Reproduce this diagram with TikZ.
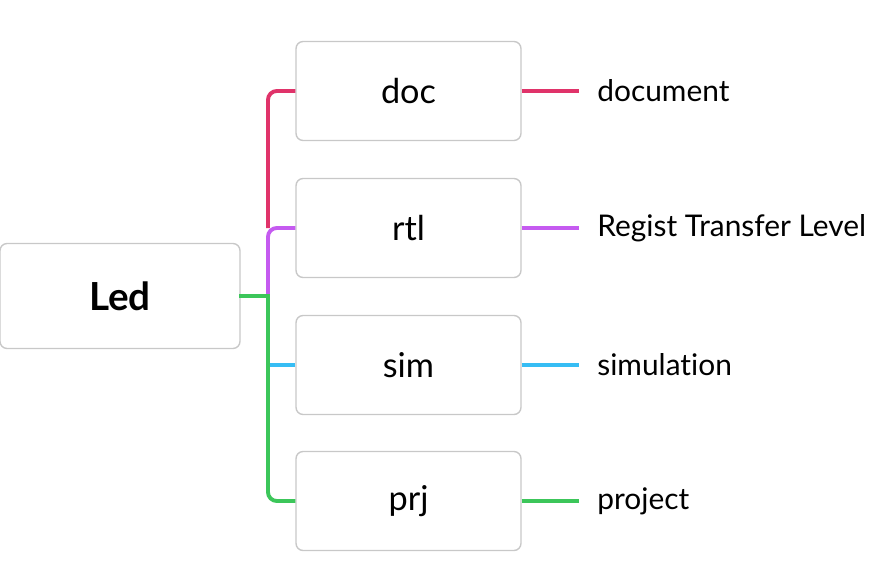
\documentclass[tikz,border=0pt]{standalone}
\usepackage{fontspec}
\setmainfont[Ligatures=NoCommon]{Lato}
\usetikzlibrary{positioning}
\definecolor{docred}{HTML}{E0336A}
\definecolor{rtlpurple}{HTML}{C55BF0}
\definecolor{simblue}{HTML}{36BDF4}
\definecolor{prjgreen}{HTML}{3CC65A}
\definecolor{boxgray}{HTML}{C8C8C8}

\begin{document}
\begin{tikzpicture}
	[x=0.02cm,y=-0.02cm,
	 box/.style={draw=boxgray,line width=0.8pt,rounded corners=4pt,fill=white,
	             minimum width=4.5cm,minimum height=1.98cm,font=\fontsize{19.5}{23}\selectfont},
	 rootbox/.style={box,minimum width=4.8cm,minimum height=2.1cm,font=\fontsize{22}{26}\selectfont\bfseries},
	 leaf/.style={anchor=west,inner sep=0pt,font=\fontsize{17}{20}\selectfont},
	 branch/.style={line width=2.2pt,rounded corners=5pt}]
	\useasboundingbox (0,0) rectangle (884,564);
	% main topic
	\node[rootbox] (led) at (120,296) {Led};
	% sub topics
	\node[box] (doc) at (408.5,91) {doc};
	\node[box] (rtl) at (408.5,228) {rtl};
	\node[box] (sim) at (408.5,365) {sim};
	\node[box] (prj) at (408.5,501) {prj};
	% notes
	\node[leaf] (docnote) at (597,91) {document};
	\node[leaf] (rtlnote) at (597,228) {Regist Transfer Level};
	\node[leaf] (simnote) at (597,365) {simulation};
	\node[leaf] (prjnote) at (597,501) {project};
	% joints on the trunk
	\coordinate (jrtl) at (268,228);
	\coordinate (jled) at (268,296);
	\coordinate (jsim) at (268,365);
	% branches
	\draw[branch,docred] (doc.west) -| (jrtl);
	\draw[branch,rtlpurple] (rtl.west) -| (jled);
	\draw[branch,simblue] (sim.west) -- (jsim);
	\draw[branch,prjgreen,line cap=rect] (led.east) -- (jled);
	\draw[branch,prjgreen] (jled) |- (prj.west);
	\draw[branch,docred] (doc.east) -- ++(57,0);
	\draw[branch,rtlpurple] (rtl.east) -- ++(57,0);
	\draw[branch,simblue] (sim.east) -- ++(57,0);
	\draw[branch,prjgreen] (prj.east) -- ++(57,0);
\end{tikzpicture}
\end{document}
